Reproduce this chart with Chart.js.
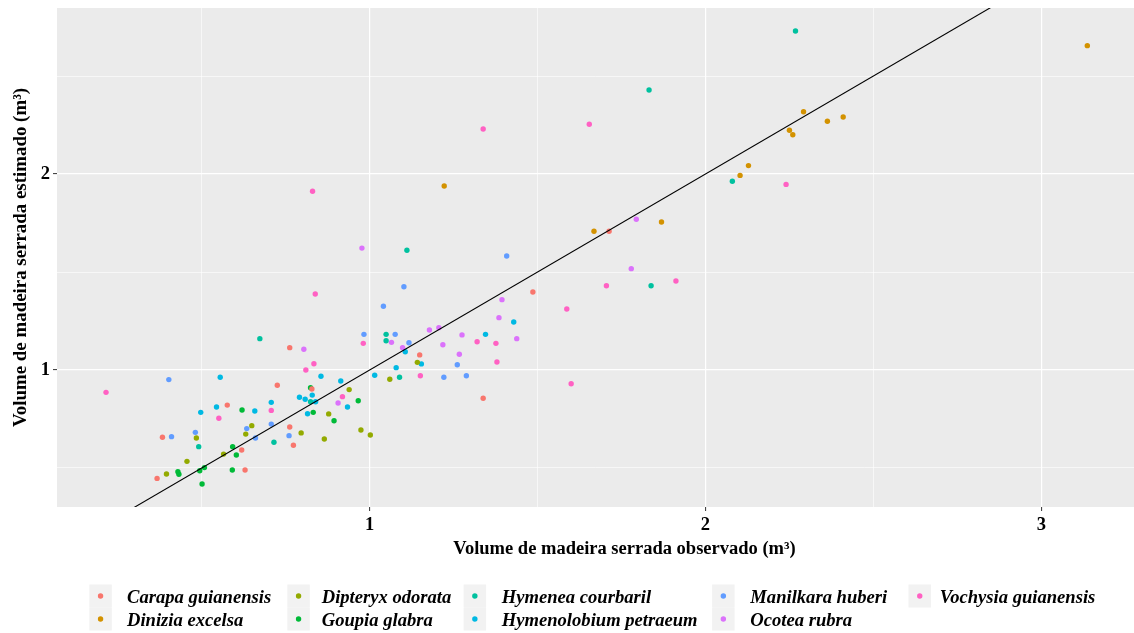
<!DOCTYPE html>
<html>
<head>
<meta charset="utf-8">
<script src="https://cdn.jsdelivr.net/npm/chart.js@4.4.0/dist/chart.umd.min.js"></script>
<style>
html,body{margin:0;padding:0;background:#ffffff;}
canvas{display:block;}
</style>
</head>
<body>
<canvas id="c" width="1134" height="633"></canvas>
<script>
// ---- Data ----
const species = ["Carapa guianensis","Dinizia excelsa","Dipteryx odorata","Goupia glabra","Hymenea courbaril","Hymenolobium petraeum","Manilkara huberi","Ocotea rubra","Vochysia guianensis"];
const speciesColors = ["#F8766D","#D39200","#93AA00","#00BA38","#00C19F","#00B9E3","#619CFF","#DB72FB","#FF61C3"];

const carapaX = [0.576,0.383,0.619,0.629,0.367,0.762,0.725,0.828,0.762,0.773,1.149,1.338,1.486,1.713];
const carapaY = [0.821,0.657,0.592,0.490,0.447,1.114,0.922,0.903,0.709,0.616,1.077,0.856,1.398,1.708];

const diniziaX = [1.222,1.668,1.869,2.103,2.128,2.250,2.260,2.292,2.363,2.410,3.137];
const diniziaY = [1.939,1.708,1.755,1.993,2.043,2.223,2.200,2.318,2.269,2.291,2.655];

const dipteryxX = [0.649,0.631,0.484,0.565,0.456,0.395,0.939,0.974,1.002,0.878,0.796,0.865,1.060,1.142];
const dipteryxY = [0.716,0.673,0.653,0.571,0.534,0.469,0.900,0.694,0.668,0.776,0.679,0.648,0.953,1.039];

const goupiaX = [0.620,0.592,0.603,0.508,0.494,0.591,0.429,0.432,0.501,0.824,0.966,0.832,0.894];
const goupiaY = [0.796,0.609,0.566,0.502,0.486,0.490,0.481,0.468,0.418,0.910,0.843,0.784,0.741];

const hymeneaX = [0.673,0.491,0.715,0.824,1.049,1.049,1.089,1.111,1.832,1.838,2.080,2.268];
const hymeneaY = [1.160,0.609,0.631,0.838,1.182,1.149,0.963,1.611,2.429,1.430,1.963,2.730];

const hymenolobiumX = [0.555,0.544,0.658,0.497,0.707,0.791,0.808,0.829,0.839,0.815,0.855,0.914,0.934,1.015,1.079,1.106,1.154,1.345,1.429];
const hymenolobiumY = [0.963,0.811,0.791,0.784,0.835,0.861,0.851,0.872,0.838,0.777,0.968,0.944,0.811,0.973,1.012,1.093,1.031,1.182,1.245];

const manilkaraX = [0.402,0.481,0.634,0.660,0.410,0.707,0.760,0.983,1.076,1.041,1.102,1.408,1.117,1.261,1.221,1.288];
const manilkaraY = [0.951,0.682,0.701,0.653,0.660,0.724,0.665,1.182,1.182,1.325,1.425,1.582,1.139,1.027,0.963,0.971];

const ocoteaX = [0.804,1.065,0.906,0.977,1.098,1.178,1.206,1.275,1.218,1.267,1.394,1.385,1.438,1.794,1.779];
const ocoteaY = [1.106,1.141,0.832,1.622,1.114,1.204,1.216,1.179,1.129,1.080,1.359,1.267,1.160,1.769,1.517];

const vochysiaX = [0.215,0.551,0.707,0.810,0.834,0.830,0.838,0.981,0.919,1.151,1.320,1.376,1.379,1.338,1.654,1.587,1.600,1.705,1.912,2.240];
const vochysiaY = [0.886,0.754,0.794,1.000,1.032,1.912,1.388,1.136,0.864,0.971,1.144,1.136,1.041,2.230,2.254,1.311,0.930,1.430,1.454,1.947];

// 1:1 reference line
const refLineX = [0, 4];
const refLineY = [0, 4];

// axes
const xTickValues = [0.5, 1, 1.5, 2, 2.5, 3];
const yTickValues = [0.5, 1, 1.5, 2, 2.5];
const xTitle = "Volume de madeira serrada observado (m\u00B3)";
const yTitle = "Volume de madeira serrada estimado (m\u00B3)";

// ---- Build chart ----
const seriesX = [carapaX, diniziaX, dipteryxX, goupiaX, hymeneaX, hymenolobiumX, manilkaraX, ocoteaX, vochysiaX];
const seriesY = [carapaY, diniziaY, dipteryxY, goupiaY, hymeneaY, hymenolobiumY, manilkaraY, ocoteaY, vochysiaY];
const toPoints = (xs, ys) => xs.map((x, i) => ({x: x, y: ys[i]}));

const SERIF = '"Liberation Serif", "Times New Roman", serif';
const isMajor = v => Math.abs(v - Math.round(v)) < 1e-9;

const datasets = species.map((name, i) => ({
  label: name,
  data: toPoints(seriesX[i], seriesY[i]),
  backgroundColor: speciesColors[i],
  borderWidth: 0,
  pointRadius: 2.7,
  pointHoverRadius: 2.7,
  order: 1
}));
datasets.push({
  label: "1:1",
  data: toPoints(refLineX, refLineY),
  showLine: true,
  borderColor: "#000000",
  borderWidth: 1.1,
  pointRadius: 0,
  pointHoverRadius: 0,
  fill: false,
  order: 0
});

const legendLayout = {
  columns: [[0,1],[2,3],[4,5],[6,7],[8]],
  boxX: [89.3, 287.3, 463.6, 712.1, 908.5],
  textX: [127, 321.7, 501.8, 750.3, 939.8]
};

const decor = {
  id: 'decor',
  beforeDraw(chart) {
    const {ctx, chartArea: a} = chart;
    ctx.save();
    ctx.fillStyle = '#EBEBEB';
    ctx.fillRect(a.left, a.top, a.right - a.left, a.bottom - a.top);
    ctx.restore();
  },
  afterDraw(chart) {
    const {ctx, chartArea: a} = chart;
    ctx.save();
    ctx.fillStyle = '#000000';
    // x title
    ctx.font = 'bold 18.5px ' + SERIF;
    ctx.textAlign = 'center';
    ctx.textBaseline = 'alphabetic';
    ctx.fillText(xTitle, (a.left + a.right) / 2 + 29, a.bottom + 47);
    // y title
    ctx.save();
    ctx.font = 'bold 18.9px ' + SERIF;
    ctx.translate(21, (a.top + a.bottom) / 2);
    ctx.rotate(-Math.PI / 2);
    ctx.textBaseline = 'middle';
    ctx.fillText(yTitle, 0, 0);
    ctx.restore();
    // legend
    const keyW = 22.5, keyH = 23, keyTop = a.bottom + 77.5;
    ctx.font = 'italic bold 18.6px ' + SERIF;
    ctx.textAlign = 'left';
    ctx.textBaseline = 'alphabetic';
    legendLayout.columns.forEach((col, c) => {
      col.forEach((di, r) => {
        const bx = legendLayout.boxX[c];
        const by = keyTop + r * keyH;
        ctx.fillStyle = '#F2F2F2';
        ctx.fillRect(bx, by, keyW, keyH);
        ctx.fillStyle = chart.data.datasets[di].backgroundColor;
        ctx.beginPath();
        ctx.arc(bx + keyW / 2, by + keyH / 2, 2.7, 0, Math.PI * 2);
        ctx.fill();
        ctx.fillStyle = '#000000';
        ctx.fillText(chart.data.datasets[di].label, legendLayout.textX[c], by + keyH / 2 + 7);
      });
    });
    ctx.restore();
  }
};

const gridOpts = {
  color: '#FFFFFF',
  lineWidth: ctx => (ctx.tick && isMajor(ctx.tick.value)) ? 1.2 : 0.6,
  tickColor: ctx => (ctx.tick && isMajor(ctx.tick.value)) ? '#333333' : 'rgba(0,0,0,0)',
  tickLength: 4,
  tickWidth: 1,
  drawTicks: true
};
const tickFont = {family: SERIF, size: 18.5, weight: 'bold'};

new Chart(document.getElementById('c'), {
  type: 'scatter',
  data: {datasets: datasets},
  options: {
    responsive: false,
    animation: false,
    events: [],
    layout: {autoPadding: false, padding: {top: 8, left: 0, right: 0, bottom: 0}},
    plugins: {legend: {display: false}, tooltip: {enabled: false}, title: {display: false}},
    scales: {
      x: {
        type: 'linear',
        min: 0.069,
        max: 3.276,
        afterBuildTicks: s => { s.ticks = xTickValues.map(v => ({value: v})); },
        afterFit: s => { s.height = 126; s.paddingLeft = 0; s.paddingRight = 0; },
        border: {display: false},
        grid: gridOpts,
        ticks: {
          callback: v => isMajor(v) ? String(v) : '',
          font: tickFont, color: '#000000', padding: 3,
          maxRotation: 0, autoSkip: false
        }
      },
      y: {
        type: 'linear',
        min: 0.301,
        max: 2.847,
        afterBuildTicks: s => { s.ticks = yTickValues.map(v => ({value: v})); },
        afterFit: s => { s.width = 57; s.paddingTop = 0; s.paddingBottom = 0; },
        border: {display: false},
        grid: gridOpts,
        ticks: {
          callback: v => isMajor(v) ? String(v) : '',
          font: tickFont, color: '#000000', padding: 3,
          autoSkip: false
        }
      }
    }
  },
  plugins: [decor]
});
</script>
</body>
</html>
